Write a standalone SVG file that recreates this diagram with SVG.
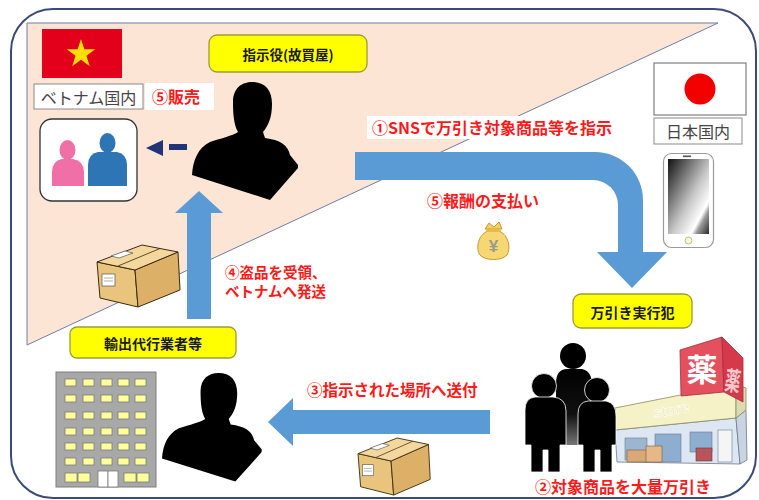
<svg xmlns="http://www.w3.org/2000/svg" width="759" height="500" viewBox="0 0 759 500">
  <style>
    .lbl{font-family:"Noto Sans CJK JP","Noto Sans",sans-serif;font-weight:700;fill:#ff1a1a;font-size:16px;dominant-baseline:central}
    .tagtxt{font-family:"Noto Sans CJK JP","Noto Sans",sans-serif;font-weight:700;fill:#1a1a1a;font-size:14px;text-anchor:middle;dominant-baseline:central}
    .boxtxt{font-family:"Noto Sans CJK JP","Noto Sans",sans-serif;fill:#444;font-size:16px;text-anchor:middle;dominant-baseline:central}
    .tag{fill:#ffff00;stroke:#9c9c3c;stroke-width:1.3}
    .arrow{fill:#5b9bd5}
    .frame{fill:#fff;stroke:#8a8a8a;stroke-width:1}
    .sil{fill:#000}
    .win{fill:#ffff99;stroke:#7a7a7a;stroke-width:0.8}
    .cb-top{fill:#f3d79c;stroke:#3a2a10;stroke-width:1}
    .cb-front{fill:#e9c47c;stroke:#3a2a10;stroke-width:1}
    .cb-side{fill:#dcb066;stroke:#3a2a10;stroke-width:1}
  </style>
  <defs>
    <!-- bust silhouette, local box 106 x 118 -->
    <path id="bust" d="M41,20 C41,6 50,0 60,0 C73,0 80,8 80,22 C80,36 76,44 71,50 L73,56 C88,58 96,63 98,73 L106,83 L106,86 L78,118 L0,93 C1,78 6,66 18,60 C30,56 40,54 46,50 C42,43 41,33 41,20 Z"/>
    <!-- cardboard parcel, local box 83 x 62 -->
    <g id="parcel">
      <polygon class="cb-front" points="0,17 3,53 41,62 38,25"/>
      <polygon class="cb-side" points="38,25 81,7 83,45 41,62"/>
      <polygon class="cb-top" points="0,17 45,0 81,7 38,25"/>
      <line x1="21" y1="21" x2="63" y2="3.5" stroke="#3a2a10" stroke-width="0.8"/>
      <rect x="5" y="29" width="13" height="12" fill="#fff" stroke="#555" stroke-width="0.7"/>
      <line x1="7" y1="33" x2="16" y2="33" stroke="#999" stroke-width="0.8"/>
      <line x1="7" y1="36" x2="16" y2="36" stroke="#999" stroke-width="0.8"/>
      <polygon points="14,11 28,6 36,8 22,13" fill="#fff" stroke="#555" stroke-width="0.7"/>
    </g>
    <linearGradient id="screen" x1="0" y1="0" x2="1" y2="1">
      <stop offset="0" stop-color="#111"/>
      <stop offset="0.55" stop-color="#c8c8c8"/>
      <stop offset="0.78" stop-color="#fff"/>
      <stop offset="0.84" stop-color="#9a9a9a"/>
      <stop offset="1" stop-color="#2a2a2a"/>
    </linearGradient>
    <linearGradient id="fade" x1="0" y1="0" x2="0" y2="1">
      <stop offset="0" stop-color="#000"/>
      <stop offset="0.6" stop-color="#111"/>
      <stop offset="1" stop-color="#777"/>
    </linearGradient>
  </defs>

  <!-- outer frame -->
  <rect x="11" y="9" width="745" height="489" rx="42" fill="#fff" stroke="#3b4a78" stroke-width="2"/>

  <!-- Vietnam region -->
  <polygon points="27,23 718,23 27,345" fill="#fce5d5" stroke="#6d7ea6" stroke-width="1"/>

  <!-- connectors -->
  <g id="connectors">
    <path class="arrow" d="M355,152 H595 A48,48 0 0 1 643,200 V252 H667 L632,288 L597,252 H618 V205 A25,25 0 0 0 593,180 H355 Z"/>
    <path class="arrow" d="M490,410 H293 V398 L268,422 L293,446 V434 H490 Z"/>
    <path class="arrow" d="M187,319 V213 H175 L199,191 L223,213 H211 V319 Z"/>
    <polygon points="146,148 163,140 163,156" fill="#1f3577"/>
    <rect x="169" y="144" width="18" height="6" fill="#1f3577"/>
  </g>

  <!-- labels on the flows -->
  <g id="labels">
    <rect x="145" y="83" width="69" height="27" fill="#fff"/>
    <text class="lbl" x="152" y="96">⑤販売</text>
    <rect x="367" y="116" width="247" height="23" fill="#fff"/>
    <text class="lbl" x="372" y="127">①SNSで万引き対象商品等を指示</text>
    <text class="lbl" x="427" y="200">⑤報酬の支払い</text>
    <text class="lbl" x="225" y="271" style="font-size:14.5px">④盗品を受領、</text>
    <text class="lbl" x="225" y="290" style="font-size:14.5px">ベトナムへ発送</text>
    <text class="lbl" x="307" y="389" style="font-size:15.5px">③指示された場所へ送付</text>
    <text class="lbl" x="535" y="486">②対象商品を大量万引き</text>
  </g>

  <!-- Vietnam flag and caption -->
  <g id="vietnam">
    <rect x="42" y="29" width="80" height="49" fill="#e2001a"/>
    <polygon points="81,39 84.37,49.36 95.27,49.36 86.45,55.77 89.82,66.14 81,59.73 72.18,66.14 75.55,55.77 66.73,49.36 77.63,49.36" fill="#ffde00"/>
    <rect class="frame" x="34" y="84" width="109" height="25"/>
    <text class="boxtxt" x="88.5" y="96.5">ベトナム国内</text>
  </g>

  <!-- buyers in Vietnam -->
  <g id="buyers">
    <rect x="40" y="119" width="97" height="82" rx="12" fill="#fff" stroke="#333" stroke-width="1.3"/>
    <ellipse cx="67.5" cy="150" rx="8" ry="10" fill="#f06fa6"/>
    <path d="M52,186 V172 Q52,161 62,159 H73 Q84,161 84,172 V186 Z" fill="#f06fa6"/>
    <ellipse cx="107.5" cy="143" rx="8" ry="10" fill="#2e75b6"/>
    <path d="M88,186 V165 Q88,154 98,152 H117 Q127,154 127,165 V186 Z" fill="#2e75b6"/>
  </g>

  <!-- instigator -->
  <g id="instigator">
    <rect class="tag" x="209" y="35" width="158" height="37" rx="8"/>
    <text class="tagtxt" x="288" y="53.5" style="font-size:13.5px">指示役(故買屋)</text>
    <use href="#bust" class="sil" x="192" y="82"/>
  </g>

  <!-- Japan flag, caption and phone -->
  <g id="japan">
    <rect x="654" y="63" width="92" height="52" fill="#fff" stroke="#666" stroke-width="1"/>
    <circle cx="700" cy="89" r="15.5" fill="#f20000"/>
    <rect class="frame" x="654" y="118" width="88" height="26"/>
    <text class="boxtxt" x="698" y="131">日本国内</text>
  </g>
  <g id="phone">
    <rect x="663.5" y="153.5" width="50" height="94" rx="8" fill="#fff" stroke="#9a9a9a" stroke-width="1.2"/>
    <rect x="668" y="159" width="41" height="75" fill="url(#screen)"/>
    <circle cx="688.5" cy="240.5" r="3.5" fill="#fff6c8" stroke="#aaa" stroke-width="0.8"/>
    <rect x="683" y="155.5" width="8" height="1.6" fill="#555"/>
  </g>

  <!-- reward money bag -->
  <g id="money">
    <path d="M485,229 L489,223 L494,227 L499,222 L502,229 Z" fill="#f4cf63" stroke="#c79a2a" stroke-width="1"/>
    <path d="M488,231 C477,235 476,250 480,255 C485,261 502,261 507,255 C511,249 509,235 499,231 Z" fill="#f7d774" stroke="#c79a2a" stroke-width="1"/>
    <rect x="486" y="229" width="15" height="3" rx="1.5" fill="#e8b84a"/>
    <text x="493.5" y="246" style="font-family:'Liberation Sans',sans-serif;font-size:17px;font-weight:700;fill:#9a9a8a;text-anchor:middle;dominant-baseline:central">¥</text>
  </g>

  <!-- parcel received in Vietnam -->
  <g id="parcel-vn">
    <use href="#parcel" x="97" y="245"/>
  </g>

  <!-- export agent -->
  <g id="agent">
    <rect class="tag" x="70" y="327" width="166" height="31" rx="7"/>
    <text class="tagtxt" x="153" y="343">輸出代行業者等</text>
    <use href="#bust" class="sil" transform="translate(162,373) scale(0.94,0.92)"/>
  </g>

  <!-- office building -->
  <g id="building">
    <rect x="56" y="372" width="100" height="115" fill="#a8a8a8" stroke="#7f7f7f" stroke-width="1"/>
    <g>
      <rect class="win" x="65" y="379" width="11" height="7"/><rect class="win" x="83" y="379" width="11" height="7"/><rect class="win" x="101" y="379" width="11" height="7"/><rect class="win" x="118" y="379" width="11" height="7"/><rect class="win" x="135" y="379" width="11" height="7"/>
      <rect class="win" x="65" y="395" width="11" height="7"/><rect class="win" x="83" y="395" width="11" height="7"/><rect class="win" x="101" y="395" width="11" height="7"/><rect class="win" x="118" y="395" width="11" height="7"/><rect class="win" x="135" y="395" width="11" height="7"/>
      <rect class="win" x="65" y="412" width="11" height="7"/><rect class="win" x="83" y="412" width="11" height="7"/><rect class="win" x="101" y="412" width="11" height="7"/><rect class="win" x="118" y="412" width="11" height="7"/><rect class="win" x="135" y="412" width="11" height="7"/>
      <rect class="win" x="65" y="428" width="11" height="7"/><rect class="win" x="83" y="428" width="11" height="7"/><rect class="win" x="101" y="428" width="11" height="7"/><rect class="win" x="118" y="428" width="11" height="7"/><rect class="win" x="135" y="428" width="11" height="7"/>
      <rect class="win" x="65" y="443" width="11" height="7"/><rect class="win" x="83" y="443" width="11" height="7"/><rect class="win" x="101" y="443" width="11" height="7"/><rect class="win" x="118" y="443" width="11" height="7"/><rect class="win" x="135" y="443" width="11" height="7"/>
      <rect class="win" x="65" y="458" width="11" height="7"/><rect class="win" x="83" y="458" width="11" height="7"/><rect class="win" x="101" y="458" width="11" height="7"/><rect class="win" x="118" y="458" width="11" height="7"/><rect class="win" x="135" y="458" width="11" height="7"/>
      <rect class="win" x="65" y="473" width="12" height="9"/><rect class="win" x="78" y="473" width="12" height="9"/>
      <rect x="98" y="471" width="10" height="16" fill="#fff" stroke="#7a7a7a" stroke-width="0.8"/><rect x="108" y="471" width="10" height="16" fill="#fff" stroke="#7a7a7a" stroke-width="0.8"/>
      <rect class="win" x="124" y="473" width="12" height="9"/><rect class="win" x="137" y="473" width="12" height="9"/>
    </g>
  </g>

  <!-- parcel sent to the agent -->
  <g id="parcel-jp">
    <use href="#parcel" transform="translate(358,438) scale(0.87,0.92)"/>
  </g>

  <!-- shoplifters -->
  <g id="shoplifters">
    <rect class="tag" x="573" y="294" width="119" height="34" rx="8"/>
    <text class="tagtxt" x="632.5" y="312">万引き実行犯</text>
  </g>

  <!-- drugstore -->
  <g id="store">
    <!-- shop front -->
    <polygon points="615,430 736,418 740,464 617,462" fill="#dde7f3" stroke="#6d7a8c" stroke-width="0.8"/>
    <polygon points="736,418 746,410 747,460 740,464" fill="#c9d4e2" stroke="#6d7a8c" stroke-width="0.8"/>
    <rect x="625" y="438" width="22" height="22" fill="#9db6d0" stroke="#6d7a8c" stroke-width="0.6"/>
    <rect x="655" y="434" width="26" height="28" fill="#8eaed0" stroke="#6d7a8c" stroke-width="0.6"/>
    <rect x="690" y="432" width="22" height="20" fill="#8eaed0" stroke="#6d7a8c" stroke-width="0.6"/>
    <rect x="718" y="430" width="14" height="32" fill="#f5f5f5" stroke="#6d7a8c" stroke-width="0.6"/>
    <rect x="627" y="450" width="20" height="12" fill="#d8a878" stroke="#7a5a3a" stroke-width="0.6"/>
    <rect x="646" y="446" width="16" height="16" fill="#e4b888" stroke="#7a5a3a" stroke-width="0.6"/>
    <rect x="696" y="448" width="16" height="13" fill="#b8545a" stroke="#6a3a3a" stroke-width="0.6"/>
    <!-- sign band -->
    <polygon points="615,408 736,384 736,418 615,430" fill="#f4f2c6" stroke="#8c8a5c" stroke-width="0.8"/>
    <polygon points="736,384 746,388 746,410 736,418" fill="#dcdab0" stroke="#8c8a5c" stroke-width="0.8"/>
    <text x="672" y="415" transform="rotate(-11 672 415)" style="font-family:'Liberation Sans',sans-serif;font-size:15px;font-weight:700;fill:#eceab8;stroke:#fff;stroke-width:0.6" text-anchor="middle">store</text>
    <!-- rooftop sign cube -->
    <polygon points="680,350 722,337 724,392 681,396" fill="#e4505e" stroke="#a03038" stroke-width="0.8"/>
    <polygon points="722,337 743,358 743,402 724,392" fill="#d63a4a" stroke="#a03038" stroke-width="0.8"/>
    <text x="702" y="367" style="font-family:'Noto Sans CJK JP',sans-serif;font-size:31px;font-weight:700;fill:#fff;text-anchor:middle;dominant-baseline:central">薬</text>
    <text x="733" y="379" transform="rotate(8 733 379) scale(0.6,1)" style="font-family:'Noto Sans CJK JP',sans-serif;font-size:26px;font-weight:700;fill:#f6c8cc;text-anchor:middle;dominant-baseline:central" dx="489">薬</text>
  </g>

  <!-- group of three people -->
  <g id="crowd">
    <!-- rear figure -->
    <circle cx="573" cy="356" r="13" fill="#000"/>
    <path d="M556,383 Q556,370 566,369 H582 Q592,371 592,385 V420 H586 V445 H562 V420 H556 Z" fill="url(#fade)"/>
    <!-- left front figure -->
    <circle cx="544" cy="386" r="12.5" fill="#000" stroke="#fff" stroke-width="0.8"/>
    <path d="M525,410 Q525,398 535,397 H553 Q566,398 566,411 V445 H560 V472 H548 V450 H543 V472 H531 V445 H525 Z" fill="#000" stroke="#fff" stroke-width="0.8"/>
    <!-- right front figure -->
    <circle cx="597" cy="390" r="12.5" fill="#000" stroke="#fff" stroke-width="0.8"/>
    <path d="M578,414 Q578,402 588,401 H606 Q616,403 616,416 V445 H612 V472 H600 V450 H595 V472 H583 V445 H578 Z" fill="#000" stroke="#fff" stroke-width="0.8"/>
  </g>
</svg>
